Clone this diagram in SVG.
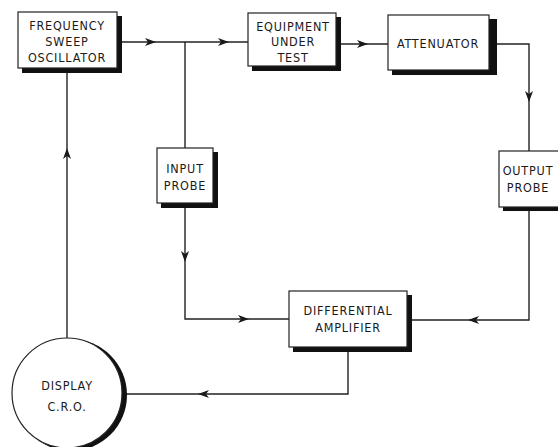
<svg xmlns="http://www.w3.org/2000/svg" width="558" height="447" viewBox="0 0 558 447">
<style>
.box{fill:#fff;stroke:#222;stroke-width:1.2}
.sh{fill:#111}
.ln{fill:none;stroke:#222;stroke-width:1.4}
.t{font-family:"DejaVu Sans Condensed","DejaVu Sans",sans-serif;font-size:12.5px;fill:#1a1a1a;text-anchor:middle;letter-spacing:0.8px}
.ah{fill:#1a1a1a}
</style>
<defs>
<path id="ah" d="M0,0 L-11,-4 L-8,0 L-11,4 Z"/>
</defs>
<rect width="558" height="447" fill="#fff"/>
<g id="connectors">
<path class="ln" d="M121,42 H248"/>
<path class="ln" d="M185,42 V148"/>
<path class="ln" d="M185,208 V319 H289"/>
<path class="ln" d="M340,44 H388"/>
<path class="ln" d="M497,44 H529 V151"/>
<path class="ln" d="M529,211 V320 H412"/>
<path class="ln" d="M348,352 V394 H124"/>
<path class="ln" d="M67,338 V73"/>
<use class="ah" href="#ah" transform="translate(156,42)"/>
<use class="ah" href="#ah" transform="translate(229,42)"/>
<use class="ah" href="#ah" transform="translate(368,44)"/>
<use class="ah" href="#ah" transform="translate(529,102) rotate(90)"/>
<use class="ah" href="#ah" transform="translate(185,262) rotate(90)"/>
<use class="ah" href="#ah" transform="translate(249,319)"/>
<use class="ah" href="#ah" transform="translate(468,320) rotate(180)"/>
<use class="ah" href="#ah" transform="translate(198,394) rotate(180)"/>
<use class="ah" href="#ah" transform="translate(67,148) rotate(-90)"/>
</g>
<g id="oscillator">
<rect class="sh" x="22" y="16" width="100" height="57"/>
<rect class="box" x="18" y="12" width="99" height="56"/>
<text class="t" x="67" y="30">FREQUENCY</text>
<text class="t" x="67" y="46">SWEEP</text>
<text class="t" x="67" y="62">OSCILLATOR</text>
</g>
<g id="equipment">
<rect class="sh" x="252" y="17" width="89" height="54"/>
<rect class="box" x="248" y="13" width="88" height="53"/>
<text class="t" x="293" y="31">EQUIPMENT</text>
<text class="t" x="293" y="46">UNDER</text>
<text class="t" x="293" y="62">TEST</text>
</g>
<g id="attenuator">
<rect class="sh" x="392" y="19" width="105" height="56"/>
<rect class="box" x="388" y="15" width="101" height="55"/>
<text class="t" x="438" y="48">ATTENUATOR</text>
</g>
<g id="input-probe">
<rect class="sh" x="161" y="152" width="57" height="56"/>
<rect class="box" x="157" y="148" width="56" height="55"/>
<text class="t" x="185" y="173">INPUT</text>
<text class="t" x="185" y="190">PROBE</text>
</g>
<g id="output-probe">
<rect class="sh" x="503" y="155" width="70" height="56"/>
<rect class="box" x="499" y="151" width="70" height="56"/>
<text class="t" x="528" y="175">OUTPUT</text>
<text class="t" x="528" y="192">PROBE</text>
</g>
<g id="differential-amplifier">
<rect class="sh" x="293" y="295" width="119" height="57"/>
<rect class="box" x="289" y="291" width="118" height="56"/>
<text class="t" x="348" y="315">DIFFERENTIAL</text>
<text class="t" x="348" y="332">AMPLIFIER</text>
</g>
<g id="display">
<circle class="sh" cx="71" cy="395" r="56"/>
<circle class="box" cx="67" cy="393" r="55"/>
<text class="t" x="67" y="390">DISPLAY</text>
<text class="t" x="67" y="411">C.R.O.</text>
</g>
</svg>
